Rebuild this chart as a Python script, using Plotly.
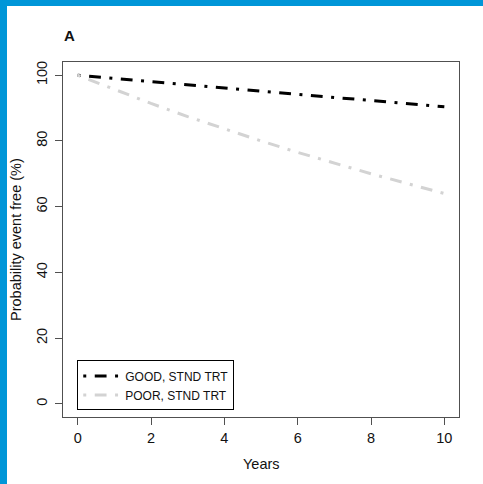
import plotly.graph_objects as go

# Event-free probability (%) by follow-up year
years = [0, 1, 2, 3, 4, 5, 6, 7, 8, 9, 10]
good_stnd = [100, 99.0, 98.0, 97.0, 96.0, 95.1, 94.1, 93.2, 92.3, 91.3, 90.4]
poor_stnd = [100, 95.6, 91.4, 87.4, 83.6, 80.0, 76.5, 73.2, 70.0, 67.0, 64.0]
series_names = ["GOOD, STND TRT", "POOR, STND TRT"]

x_ticks = [0, 2, 4, 6, 8, 10]
y_ticks = [0, 20, 40, 60, 80, 100]

FONT = "Liberation Sans, Arial, sans-serif"
FRAME = "#505050"
DASH = "3px,8.5px,11.8px,8.5px"

fig = go.Figure()
fig.add_trace(go.Scatter(x=years, y=good_stnd, mode="lines", name=series_names[0],
                         line=dict(color="black", width=3, dash=DASH)))
fig.add_trace(go.Scatter(x=years, y=poor_stnd, mode="lines", name=series_names[1],
                         line=dict(color="#d3d3d3", width=3, dash=DASH)))

axis_common = dict(showgrid=False, zeroline=False, showline=True, mirror=True,
                   linecolor=FRAME, linewidth=1.3, ticks="outside", ticklen=7,
                   tickwidth=1, tickcolor=FRAME,
                   tickfont=dict(family=FONT, size=14.5, color="#111"))

fig.update_layout(
    width=483, height=484, autosize=False,
    margin=dict(l=63, r=24, t=62, b=67),
    paper_bgcolor="white", plot_bgcolor="white",
    xaxis=dict(range=[-0.4, 10.4], tickvals=x_ticks, **axis_common),
    yaxis=dict(range=[-4, 104], tickvals=y_ticks, tickangle=-90,
               ticklabelstandoff=2, **axis_common),
    showlegend=True,
    legend=dict(x=0.036, y=0.0186, xanchor="left", yanchor="bottom",
                bgcolor="white", bordercolor="black", borderwidth=1,
                itemwidth=37,
                font=dict(family=FONT, size=12, color="#111")),
    font=dict(family=FONT),
)

# Axis titles and panel letter
fig.add_annotation(text="Years", x=0.5, y=(417 - 463.5) / 355, xref="paper", yref="paper",
                   showarrow=False, xanchor="center", yanchor="middle",
                   font=dict(family=FONT, size=14.5, color="#111"))
fig.add_annotation(text="Probability event free (%)", x=(15.5 - 63) / 396, y=0.5,
                   xref="paper", yref="paper", showarrow=False, textangle=-90,
                   xanchor="center", yanchor="middle",
                   font=dict(family=FONT, size=14.5, color="#111"))
fig.add_annotation(text="<b>A</b>", x=(69 - 63) / 396, y=(417 - 35) / 355,
                   xref="paper", yref="paper", showarrow=False,
                   xanchor="center", yanchor="middle",
                   font=dict(family=FONT, size=15, color="#111"))

# Blue page border along top and left
BLUE = "#0096d8"
fig.add_shape(type="rect", xref="paper", yref="paper", x0=-63 / 396, x1=(483 - 63) / 396,
              y0=(417 - 6) / 355, y1=417 / 355, fillcolor=BLUE, line=dict(width=0), layer="above")
fig.add_shape(type="rect", xref="paper", yref="paper", x0=-63 / 396, x1=(7 - 63) / 396,
              y0=(417 - 484) / 355, y1=417 / 355, fillcolor=BLUE, line=dict(width=0), layer="above")

fig.write_html("out.html")
